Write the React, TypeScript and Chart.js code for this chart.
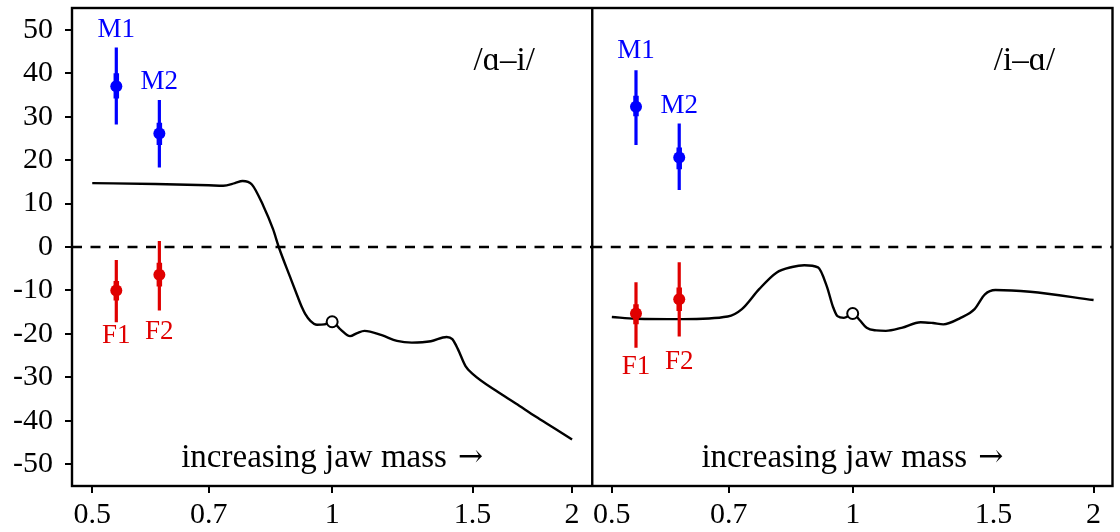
import React, { useEffect, useRef } from 'react';
import { Chart, registerables } from 'chart.js';

Chart.register(...registerables);

const FONT = "'Liberation Serif', 'Times New Roman', Times, serif";
const ARROW_FONT = "'DejaVu Serif', 'DejaVu Sans', serif";
const BLUE = '#0000ff';
const RED = '#e00000';

// axes
const xTicks = [0.5, 0.7, 1, 1.5, 2];
const yTicks = [-50, -40, -30, -20, -10, 0, 10, 20, 30, 40, 50];
const yRange = [-55, 55];
const xRangeLeft = [0.4716, 2.12];
const xRangeRight = [0.4726, 2.112];

// speaker groups
const groupNames = ['M1', 'M2', 'F1', 'F2'];
const groupX = [0.536, 0.607, 0.536, 0.607];
const groupColors = [BLUE, BLUE, RED, RED];

const panelTitles = ['/ɑ–i/', '/i–ɑ/'];
const axisNote = 'increasing jaw mass';
const axisArrow = '→';

// left panel  /ɑ–i/
const aiMean = [37.0, 26.1, -10.0, -6.4];
const aiOuterLo = [28.2, 18.3, -17.3, -14.6];
const aiOuterHi = [45.9, 33.8, -3.0, 1.4];
const aiInnerLo = [34.2, 23.5, -12.3, -9.1];
const aiInnerHi = [40.0, 28.6, -7.8, -3.6];
const aiLabelY = [49.9, 37.9, -20.4, -19.6];
const aiCurveX = [0.5, 0.6, 0.7, 0.73, 0.755, 0.772, 0.793, 0.82, 0.843, 0.857, 0.886, 0.905, 0.917, 0.925, 0.939, 0.957, 0.978, 1.0, 1.025, 1.053, 1.075, 1.098, 1.154, 1.206, 1.259, 1.33, 1.392, 1.415, 1.438, 1.47, 1.503, 1.606, 1.7, 1.8, 1.9, 2.0];
const aiCurveY = [14.7, 14.5, 14.2, 14.1, 14.7, 15.2, 14.4, 9.4, 4.1, 0, -7.0, -11.4, -14.0, -15.4, -17.0, -17.9, -17.8, -17.2, -19.0, -20.5, -19.8, -19.3, -20.3, -21.6, -22.0, -21.7, -20.7, -21.2, -23.5, -27.4, -29.3, -33.1, -36.0, -39.0, -41.7, -44.3];
const aiRef = { x: 1, y: -17.2 };

// right panel  /i–ɑ/
const iaMean = [32.3, 20.6, -15.3, -12.0];
const iaOuterLo = [23.5, 13.1, -23.2, -20.6];
const iaOuterHi = [40.7, 28.4, -8.1, -3.5];
const iaInnerLo = [30.1, 17.9, -17.8, -14.7];
const iaInnerHi = [34.8, 22.9, -13.2, -9.3];
const iaLabelY = [45.1, 32.4, -27.5, -26.5];
const iaCurveX = [0.5, 0.536, 0.613, 0.698, 0.727, 0.764, 0.803, 0.84, 0.87, 0.905, 0.928, 0.945, 0.957, 0.975, 0.99, 1.0, 1.02, 1.041, 1.07, 1.1, 1.151, 1.216, 1.26, 1.298, 1.364, 1.42, 1.463, 1.508, 1.666, 2.0];
const iaCurveY = [-16.1, -16.5, -16.6, -16.0, -14.3, -9.7, -5.9, -4.6, -4.2, -4.7, -9.0, -13.8, -15.9, -16.3, -15.8, -15.3, -16.8, -18.6, -19.2, -19.3, -18.6, -17.3, -17.5, -17.8, -16.3, -14.3, -10.9, -9.9, -10.3, -12.2];
const iaRef = { x: 1, y: -15.3 };

type Panel = {
  axis: string;
  title: string;
  range: number[];
  mean: number[];
  outerLo: number[];
  outerHi: number[];
  innerLo: number[];
  innerHi: number[];
  labelY: number[];
  curveX: number[];
  curveY: number[];
  ref: { x: number; y: number };
};

const panels: Panel[] = [
  { axis: 'xL', title: panelTitles[0], range: xRangeLeft, mean: aiMean, outerLo: aiOuterLo, outerHi: aiOuterHi, innerLo: aiInnerLo, innerHi: aiInnerHi, labelY: aiLabelY, curveX: aiCurveX, curveY: aiCurveY, ref: aiRef },
  { axis: 'xR', title: panelTitles[1], range: xRangeRight, mean: iaMean, outerLo: iaOuterLo, outerHi: iaOuterHi, innerLo: iaInnerLo, innerHi: iaInnerHi, labelY: iaLabelY, curveX: iaCurveX, curveY: iaCurveY, ref: iaRef },
];

function panelDatasets(p: Panel): any[] {
  const ds: any[] = [];
  const base = { xAxisID: p.axis, yAxisID: 'y' };
  ds.push({
    ...base,
    data: groupX.map((x, i) => ({ x, y: p.mean[i] })),
    showLine: false,
    pointRadius: 6,
    pointBackgroundColor: groupColors,
    pointBorderColor: groupColors,
    pointBorderWidth: 0,
    order: 0,
  });
  groupX.forEach((x, i) => {
    ds.push({
      ...base,
      data: [{ x, y: p.innerLo[i] }, { x, y: p.innerHi[i] }],
      showLine: true,
      borderColor: groupColors[i],
      borderWidth: 5.5,
      pointRadius: 0,
      order: 1,
    });
    ds.push({
      ...base,
      data: [{ x, y: p.outerLo[i] }, { x, y: p.outerHi[i] }],
      showLine: true,
      borderColor: groupColors[i],
      borderWidth: 3.2,
      pointRadius: 0,
      order: 2,
    });
  });
  ds.push({
    ...base,
    data: [p.ref],
    showLine: false,
    pointRadius: 5.5,
    pointBackgroundColor: '#ffffff',
    pointBorderColor: '#000000',
    pointBorderWidth: 2,
    order: 3,
  });
  ds.push({
    ...base,
    data: p.curveX.map((x, i) => ({ x, y: p.curveY[i] })),
    showLine: true,
    borderColor: '#000000',
    borderWidth: 2.4,
    pointRadius: 0,
    cubicInterpolationMode: 'monotone',
    order: 4,
  });
  ds.push({
    ...base,
    data: [{ x: p.range[0], y: 0 }, { x: p.range[1], y: 0 }],
    showLine: true,
    borderColor: '#000000',
    borderWidth: 2.5,
    borderDash: [10, 8.5],
    pointRadius: 0,
    order: 5,
  });
  return ds;
}

const tickGrid = {
  drawOnChartArea: false,
  drawTicks: true,
  tickLength: 7,
  color: '#000000',
  lineWidth: 2,
};

function xScale(range: number[]) {
  return {
    type: 'logarithmic',
    position: 'bottom',
    stack: 'bottomStack',
    stackWeight: 1,
    min: range[0],
    max: range[1],
    offset: false,
    afterBuildTicks: (s: any) => {
      s.ticks = xTicks.map((v) => ({ value: v }));
    },
    afterFit: (s: any) => {
      s.height = 46;
      s.paddingLeft = 0;
      s.paddingRight = 0;
    },
    ticks: {
      autoSkip: false,
      maxRotation: 0,
      padding: 4,
      color: '#000000',
      font: { family: FONT, size: 30 },
      callback: (v: any) => String(v),
    },
    grid: tickGrid,
    border: { display: false },
  };
}

const framePlugin = {
  id: 'frameAndText',
  afterDatasetsDraw(chart: any) {
    const { ctx, chartArea, scales } = chart;
    const y = scales.y;
    ctx.save();
    panels.forEach((p) => {
      const xs = scales[p.axis];
      ctx.textAlign = 'center';
      ctx.textBaseline = 'middle';
      ctx.font = `27px ${FONT}`;
      groupNames.forEach((n, i) => {
        ctx.fillStyle = groupColors[i];
        ctx.fillText(n, xs.getPixelForValue(groupX[i]), y.getPixelForValue(p.labelY[i]));
      });
      ctx.fillStyle = '#000000';
      ctx.font = `33px ${FONT}`;
      ctx.fillText(p.title, xs.right - 88, chartArea.top + 53);

      // note with a wide arrow
      ctx.textBaseline = 'alphabetic';
      ctx.textAlign = 'left';
      ctx.font = `33px ${FONT}`;
      const w1 = ctx.measureText(axisNote).width;
      const gap = 11;
      ctx.font = `30px ${ARROW_FONT}`;
      const w2 = ctx.measureText(axisArrow).width;
      const total = w1 + gap + w2;
      const cx = (xs.left + xs.right) / 2;
      const x0 = cx - total / 2;
      const baseY = chartArea.bottom - 19.5;
      ctx.font = `33px ${FONT}`;
      ctx.fillText(axisNote, x0, baseY);
      ctx.font = `30px ${ARROW_FONT}`;
      ctx.fillText(axisArrow, x0 + w1 + gap, baseY - 1);
    });
    ctx.strokeStyle = '#000000';
    ctx.lineWidth = 2.4;
    ctx.strokeRect(chartArea.left, chartArea.top, chartArea.right - chartArea.left, chartArea.bottom - chartArea.top);
    const div = scales.xL.right;
    ctx.beginPath();
    ctx.moveTo(div, chartArea.top);
    ctx.lineTo(div, chartArea.bottom);
    ctx.stroke();
    ctx.restore();
  },
};

export default function App() {
  const ref = useRef<HTMLCanvasElement>(null);
  useEffect(() => {
    const canvas = ref.current;
    if (!canvas) return;
    const chart = new Chart(canvas, {
      type: 'scatter',
      data: { datasets: [...panelDatasets(panels[0]), ...panelDatasets(panels[1])] },
      options: {
        responsive: false,
        animation: false,
        devicePixelRatio: 1,
        layout: { padding: { top: 8, right: 6, left: 0, bottom: 0 } },
        plugins: { legend: { display: false }, tooltip: { enabled: false } },
        elements: { line: { tension: 0 } },
        scales: {
          y: {
            type: 'linear',
            position: 'left',
            min: yRange[0],
            max: yRange[1],
            afterBuildTicks: (s: any) => {
              s.ticks = yTicks.map((v) => ({ value: v }));
            },
            afterFit: (s: any) => {
              s.width = 72;
              s.paddingTop = 0;
              s.paddingBottom = 0;
            },
            ticks: {
              autoSkip: false,
              padding: 12,
              color: '#000000',
              font: { family: FONT, size: 30 },
              callback: (v: any) => String(v),
            },
            grid: tickGrid,
            border: { display: false },
          },
          xL: xScale(xRangeLeft),
          xR: xScale(xRangeRight),
        } as any,
      },
      plugins: [framePlugin],
    } as any);
    return () => chart.destroy();
  }, []);
  return (
    <div style={{ position: 'fixed', left: 0, top: 0, width: 1120, height: 532, background: '#ffffff' }}>
      <canvas ref={ref} width={1120} height={532} style={{ display: 'block', width: 1120, height: 532 }} />
    </div>
  );
}
